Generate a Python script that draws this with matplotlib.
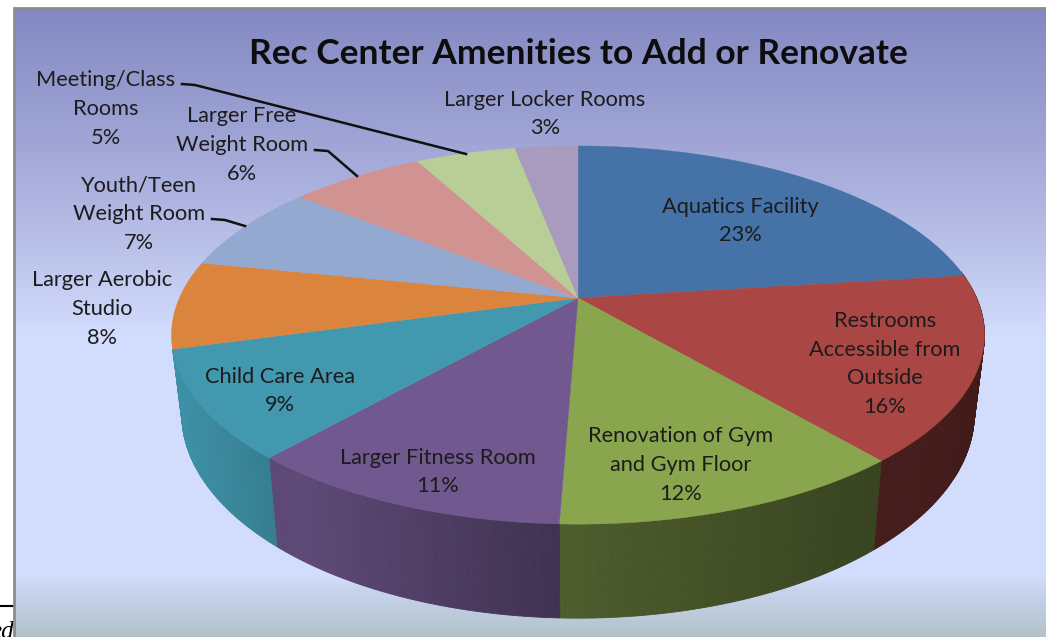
#!/usr/bin/env python3

import matplotlib
matplotlib.use("Agg")
import matplotlib.pyplot as plt
import numpy as np
from matplotlib.collections import PolyCollection
from matplotlib.colors import LinearSegmentedColormap, to_rgb

categories = ["Aquatics Facility", "Restrooms\nAccessible from\nOutside", "Renovation of Gym\nand Gym Floor",
              "Larger Fitness Room", "Child Care Area", "Larger Aerobic\nStudio", "Youth/Teen\nWeight Room",
              "Larger Free\nWeight Room", "Meeting/Class\nRooms", "Larger Locker Rooms"]
values = [23.0, 15.8, 11.8, 10.9, 9.2, 7.5, 7.49, 6.49, 4.8, 3.02]

colors = ["#4572a7", "#aa4643", "#89a54e", "#71588f", "#4198af", "#db843d", "#93a9cf", "#d19392", "#b9cd96", "#a99bbd"]
label_xy = [(740, 221), (885, 364), (681, 465), (438, 472), (280, 391), (102, 309), (139, 214), (242, 145), (106, 109), (545, 114)]

# perspective of the pie, in pixels
CX, CY = 578, 298
RX, RY = 398.6, 181.8
K = 0.196
DROP = 75.6
SHRINK = 0.975


def top_point(t):
    u, v = np.sin(t), np.cos(t)
    d = 1 + K * v
    return CX + RX * u / d, CY - RY * v / d


def bottom_point(t):
    x, y = top_point(t)
    d = 1 + K * np.cos(t)
    return CX + (x - CX) * SHRINK, y + DROP / d


def wall_shade(x):
    return np.interp(x, [175, 275, 300, 555, 875, 985], [0.95, 0.82, 0.83, 0.57, 0.41, 0.38])


fig = plt.figure(figsize=(10.46, 6.37), dpi=100)
ax = fig.add_axes([0, 0, 1, 1])
ax.set_xlim(0, 1046)
ax.set_ylim(637, 0)
ax.axis("off")

# cropped bit of the page under the chart
ax.plot([0, 14], [606, 606], color="black", lw=1.5, zorder=1)
ax.text(14, 632, "ed", fontsize=18, style="italic", family="Liberation Serif", ha="right", va="center", zorder=1)

bg_stops = [(0.0, "#8489c2"), (0.21, "#a0a5d6"), (0.39, "#bcc3ea"), (0.52, "#d2dcfd"),
            (0.905, "#d3ddfd"), (0.93, "#c8d3ee"), (1.0, "#b4c3cb")]
cmap = LinearSegmentedColormap.from_list("bg", bg_stops)
ax.imshow(np.linspace(0, 1, 300)[:, None], cmap=cmap, extent=(14, 1046, 637, 8), aspect="auto", zorder=2)
ax.set_xlim(0, 1046)
ax.set_ylim(637, 0)
ax.plot([14, 14, 1046], [637, 8, 8], color="#8c8c8c", lw=2, zorder=3, solid_joinstyle="miter")

edges = np.cumsum([0] + values) / sum(values) * 2 * np.pi

# side wall, only the first five slices reach the front
polys, faces = [], []
for i, col in enumerate(colors[:5]):
    ts = np.linspace(edges[i], edges[i + 1], int(values[i] * 8) + 4)
    for a, b in zip(ts[:-1], ts[1:]):
        if np.cos((a + b) / 2) > 0.15:
            continue
        xa, ya = top_point(a)
        xb, yb = top_point(b)
        xc, yc = bottom_point(b)
        xd, yd = bottom_point(a)
        polys.append([(xa, ya), (xb, yb), (xc, yc), (xd, yd)])
        faces.append(np.array(to_rgb(col)) * wall_shade((xa + xb) / 2))
ax.add_collection(PolyCollection(polys, facecolors=faces, edgecolors="face", linewidths=0.6, zorder=4))

# top face
for i, col in enumerate(colors):
    ts = np.linspace(edges[i], edges[i + 1], 80)
    xs, ys = top_point(ts)
    ax.fill(np.r_[CX, xs], np.r_[CY, ys], color=col, lw=0.3, zorder=5)

# leader lines
ax.plot([182, 195, 466], [84, 85, 154], color="#111111", lw=1.8, zorder=6)
ax.plot([315, 328, 357], [150, 151, 176], color="#111111", lw=1.8, zorder=6)
ax.plot([212, 225, 245], [219, 220, 226], color="#111111", lw=1.8, zorder=6)

for name, val, (x, y) in zip(categories, values, label_xy):
    ax.text(x, y, f"{name}\n{val:.0f}%", ha="center", va="center", fontsize=15.7, family="Lato",
            linespacing=1.55, color="#1c1c1c", zorder=7)

ax.text(578, 54, "Rec Center Amenities to Add or Renovate", ha="center", va="center", fontsize=25.5,
        family="Lato", weight="bold", color="#0d0d0d", zorder=7)

fig.savefig("out.png", dpi=100)
